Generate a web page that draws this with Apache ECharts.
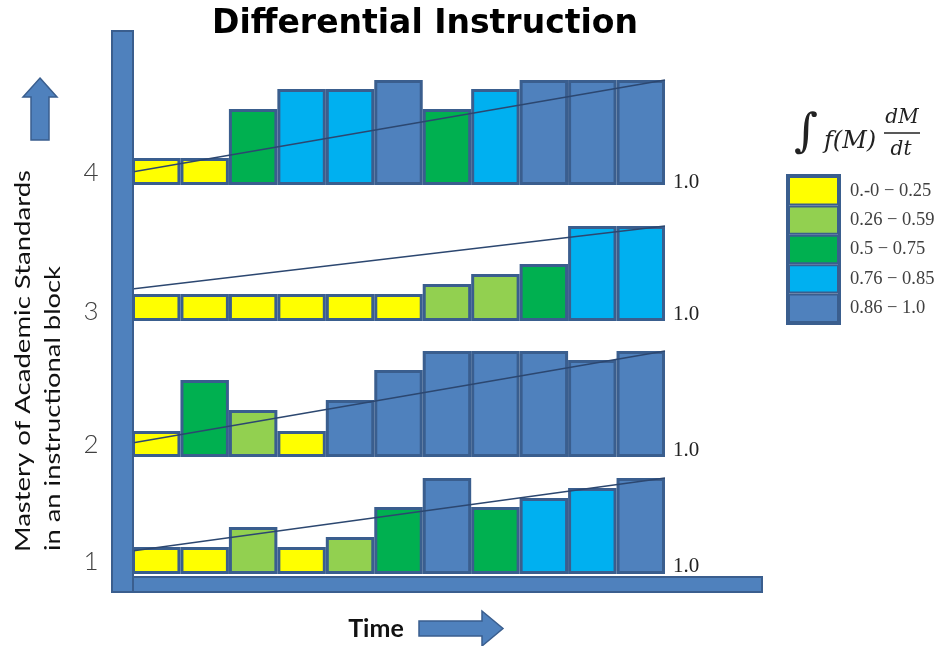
<!DOCTYPE html>
<html>
<head>
<meta charset="utf-8">
<script src="https://cdn.jsdelivr.net/npm/echarts@6/dist/echarts.min.js"></script>
<style>
  html, body { margin: 0; padding: 0; background: #ffffff; }
  #chart { width: 936px; height: 646px; }
</style>
</head>
<body>
<div id="chart"></div>
<script>
// ---------------- DATA ----------------
const timeSteps = ['t1','t2','t3','t4','t5','t6','t7','t8','t9','t10','t11'];
const levelLabels = ['0.-0 \u2212 0.25', '0.26 \u2212 0.59', '0.5 \u2212 0.75', '0.76 \u2212 0.85', '0.86 \u2212 1.0'];
const rankLabels = ['4', '3', '2', '1'];
const baseLabel = '1.0';

// mastery bar heights for each standard (panel), top panel first
const mastery4 = [0.27, 0.27, 0.76, 0.96, 0.96, 1.05, 0.76, 0.96, 1.05, 1.05, 1.05];
const mastery3 = [0.27, 0.27, 0.27, 0.27, 0.27, 0.27, 0.37, 0.47, 0.57, 0.95, 0.95];
const mastery2 = [0.26, 0.77, 0.47, 0.26, 0.57, 0.87, 1.06, 1.06, 1.06, 0.97, 1.06];
const mastery1 = [0.27, 0.27, 0.47, 0.27, 0.37, 0.67, 0.96, 0.67, 0.76, 0.86, 0.96];

// colour level (index into levelLabels) for each bar
const level4 = [0, 0, 2, 3, 3, 4, 2, 3, 4, 4, 4];
const level3 = [0, 0, 0, 0, 0, 0, 1, 1, 2, 3, 3];
const level2 = [0, 2, 1, 0, 4, 4, 4, 4, 4, 4, 4];
const level1 = [0, 0, 1, 0, 1, 2, 4, 2, 3, 3, 4];

// trend line: value at start and at end of the block
const trend4 = [0.13, 1.05];
const trend3 = [0.32, 0.95];
const trend2 = [0.14, 1.06];
const trend1 = [0.23, 0.96];

// ---------------- STYLE / LAYOUT ----------------
const levelColors = ['#FFFF00', '#92D050', '#00B050', '#00B0F0', '#4F81BD'];
const edge = '#3A5E8E';
const panels = [
  { values: mastery4, levels: level4, trend: trend4, base: 185, rankY: 173, oneY: 182 },
  { values: mastery3, levels: level3, trend: trend3, base: 321, rankY: 312, oneY: 314 },
  { values: mastery2, levels: level2, trend: trend2, base: 457, rankY: 445, oneY: 450 },
  { values: mastery1, levels: level1, trend: trend1, base: 574, rankY: 562, oneY: 566 }
];
const gridLeft = 132, gridWidth = 533, gridHeight = 120, yMax = 1.2;

const grids = [], xAxes = [], yAxes = [], series = [];
panels.forEach((p, pi) => {
  grids.push({ left: gridLeft, width: gridWidth, top: p.base - gridHeight, height: gridHeight });
  xAxes.push({ type: 'category', gridIndex: pi, data: timeSteps, show: false, boundaryGap: true });
  xAxes.push({ type: 'value', gridIndex: pi, min: 0, max: timeSteps.length, show: false });
  yAxes.push({ type: 'value', gridIndex: pi, min: 0, max: yMax, show: false });
  levelLabels.forEach((lab, li) => {
    series.push({
      name: lab, type: 'bar', xAxisIndex: pi * 2, yAxisIndex: pi, stack: 'panel' + pi,
      barCategoryGap: '0%', barGap: '0%',
      data: p.values.map((v, i) => (p.levels[i] === li ? v : '-')),
      itemStyle: { color: levelColors[li], borderColor: edge, borderWidth: 3 },
      emphasis: { disabled: true }, silent: true, animation: false
    });
  });
  series.push({
    name: 'trend', type: 'line', xAxisIndex: pi * 2 + 1, yAxisIndex: pi,
    data: [[0, p.trend[0]], [timeSteps.length, p.trend[1]]],
    symbol: 'none', lineStyle: { color: '#2C4770', width: 1.3 }, z: 5,
    silent: true, animation: false
  });
});

// text measuring helper for stretched rotated labels
const mctx = document.createElement('canvas').getContext('2d');
function measure(text, font) { mctx.font = font; return mctx.measureText(text).width; }
const yl1 = 'Mastery of Academic Standards';
const yl2 = 'in an instructional block';
const ylFont = '22px Lato';
const s1 = 382 / measure(yl1, ylFont);
const s2 = 285 / measure(yl2, ylFont);

const graphics = [];
// thick axes
graphics.push({ type: 'rect', shape: { x: 112, y: 577, width: 650, height: 15 }, style: { fill: '#4F81BD', stroke: edge, lineWidth: 2 }, z: 20 });
graphics.push({ type: 'rect', shape: { x: 112, y: 31, width: 21, height: 561 }, style: { fill: '#4F81BD', stroke: edge, lineWidth: 2 }, z: 21 });
// up arrow
graphics.push({ type: 'polygon', shape: { points: [[40, 78], [57, 97], [49, 97], [49, 140], [31, 140], [31, 97], [23, 97]] }, style: { fill: '#4F81BD', stroke: edge, lineWidth: 1.5 }, z: 20 });
// right arrow
graphics.push({ type: 'polygon', shape: { points: [[419, 621], [482, 621], [482, 611], [503, 628.5], [482, 646], [482, 636], [419, 636]] }, style: { fill: '#4F81BD', stroke: edge, lineWidth: 1.5 }, z: 20 });
// Time label
graphics.push({ type: 'text', x: 376, y: 629, style: { text: 'Time', fontFamily: 'Lato', fontWeight: 'bold', fontSize: 25, fill: '#111', textAlign: 'center', textVerticalAlign: 'middle' }, z: 20 });
// Y axis titles (rotated)
graphics.push({ type: 'text', x: 23, y: 552, rotation: Math.PI / 2, scaleX: s1, style: { text: yl1, fontFamily: 'Lato', fontSize: 22, fill: '#111', textAlign: 'left', textVerticalAlign: 'middle' }, z: 20 });
graphics.push({ type: 'text', x: 53, y: 551, rotation: Math.PI / 2, scaleX: s2, style: { text: yl2, fontFamily: 'Lato', fontSize: 22, fill: '#111', textAlign: 'left', textVerticalAlign: 'middle' }, z: 20 });
// rank labels and 1.0 labels
panels.forEach((p, pi) => {
  graphics.push({ type: 'text', x: 91, y: p.rankY, style: { text: rankLabels[pi], fontFamily: 'Lato', fontWeight: 300, fontSize: 26, fill: '#404040', textAlign: 'center', textVerticalAlign: 'middle' }, z: 20 });
  graphics.push({ type: 'text', x: 673, y: p.oneY, style: { text: baseLabel, fontFamily: 'Liberation Serif', fontSize: 21, fill: '#222', textAlign: 'left', textVerticalAlign: 'middle' }, z: 20 });
});
// formula above legend
graphics.push({ type: 'text', x: 806, y: 134, style: { text: '\u222B', fontFamily: 'DejaVu Serif', fontSize: 46, fill: '#222', textAlign: 'center', textVerticalAlign: 'middle' }, z: 20 });
graphics.push({ type: 'text', x: 850, y: 142, style: { text: 'f(M)', fontFamily: 'DejaVu Serif', fontStyle: 'italic', fontSize: 24, fill: '#222', textAlign: 'center', textVerticalAlign: 'middle' }, z: 20 });
graphics.push({ type: 'text', x: 902, y: 118, style: { text: 'dM', fontFamily: 'DejaVu Serif', fontStyle: 'italic', fontSize: 20, fill: '#222', textAlign: 'center', textVerticalAlign: 'middle' }, z: 20 });
graphics.push({ type: 'line', shape: { x1: 884, y1: 133, x2: 920, y2: 133 }, style: { stroke: '#222', lineWidth: 1.5 }, z: 20 });
graphics.push({ type: 'text', x: 901, y: 150, style: { text: 'dt', fontFamily: 'DejaVu Serif', fontStyle: 'italic', fontSize: 20, fill: '#222', textAlign: 'center', textVerticalAlign: 'middle' }, z: 20 });
// legend outer frame
graphics.push({ type: 'rect', shape: { x: 787.5, y: 175.5, width: 52, height: 148 }, style: { fill: 'none', stroke: edge, lineWidth: 3 }, z: 20 });

const option = {
  animation: false,
  title: {
    text: 'Differential Instruction', left: 420, top: 3, textAlign: 'center',
    textStyle: { fontFamily: 'DejaVu Sans', fontWeight: 'bold', fontSize: 33, color: '#000' }
  },
  legend: {
    data: levelLabels, orient: 'vertical', left: 788, top: 176, padding: 0,
    itemWidth: 49, itemHeight: 27.4, itemGap: 0, icon: 'rect', selectedMode: false,
    itemStyle: { borderColor: edge, borderWidth: 2 },
    textStyle: { fontFamily: 'Liberation Serif', fontSize: 18.5, color: '#404040', padding: [0, 0, 0, 7] }
  },
  grid: grids, xAxis: xAxes, yAxis: yAxes, series: series, graphic: graphics
};

const chart = echarts.init(document.getElementById('chart'), null, { renderer: 'canvas' });
chart.setOption(option);
</script>
</body>
</html>
